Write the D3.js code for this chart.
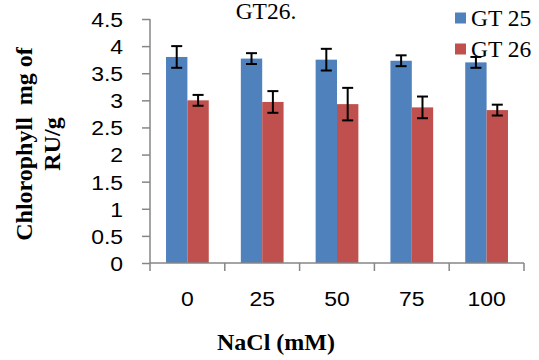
<!DOCTYPE html>
<html>
<head>
<meta charset="utf-8">
<script src="https://cdn.jsdelivr.net/npm/d3@7/dist/d3.min.js"></script>
<style>
  body { margin: 0; background: #fff; }
  svg text { fill: #000; }
</style>
</head>
<body>
<div id="chart"></div>
<script>
// data
var categories = ["0", "25", "50", "75", "100"];
var seriesNames = ["GT 25", "GT 26"];
var gt25 = [3.80, 3.77, 3.75, 3.73, 3.70];
var gt25Err = [0.20, 0.10, 0.20, 0.10, 0.10];
var gt26 = [3.00, 2.97, 2.93, 2.87, 2.82];
var gt26Err = [0.10, 0.20, 0.30, 0.20, 0.10];
var yTicks = [0, 0.5, 1, 1.5, 2, 2.5, 3, 3.5, 4, 4.5];

var colors = ["#4F81BD", "#C0504D"];
var width = 539, height = 360;
var margin = { top: 19, right: 15, bottom: 97, left: 150 };
var sx = 1.12; // reference text looks horizontally stretched

var svg = d3.select("#chart").append("svg")
  .attr("width", width)
  .attr("height", height);

var x0 = d3.scaleBand().domain(categories)
  .range([margin.left, width - margin.right]).padding(0);
var x1 = d3.scaleBand().domain(seriesNames)
  .range([0, x0.bandwidth()]).paddingInner(0).paddingOuter(0.75);
var y = d3.scaleLinear().domain([0, 4.5])
  .range([height - margin.bottom, margin.top]);

var rows = categories.map(function(c, i) {
  return [
    { cat: c, s: seriesNames[0], v: gt25[i], e: gt25Err[i], col: colors[0] },
    { cat: c, s: seriesNames[1], v: gt26[i], e: gt26Err[i], col: colors[1] }
  ];
});
var flat = [].concat.apply([], rows);

// bars
svg.append("g").selectAll("rect")
  .data(flat)
  .enter().append("rect")
  .attr("x", function(d) { return x0(d.cat) + x1(d.s); })
  .attr("width", x1.bandwidth())
  .attr("y", function(d) { return y(d.v); })
  .attr("height", function(d) { return y(0) - y(d.v); })
  .style("fill", function(d) { return d.col; });

// error bars
var err = svg.append("g").selectAll("g")
  .data(flat)
  .enter().append("g")
  .attr("transform", function(d) {
    return "translate(" + (x0(d.cat) + x1(d.s) + x1.bandwidth() / 2) + ",0)";
  })
  .style("stroke", "#000")
  .style("stroke-width", 2);
err.append("line")
  .attr("y1", function(d) { return y(d.v + d.e); })
  .attr("y2", function(d) { return y(d.v - d.e); });
err.append("line").attr("x1", -5.5).attr("x2", 5.5)
  .attr("y1", function(d) { return y(d.v + d.e); })
  .attr("y2", function(d) { return y(d.v + d.e); });
err.append("line").attr("x1", -5.5).attr("x2", 5.5)
  .attr("y1", function(d) { return y(d.v - d.e); })
  .attr("y2", function(d) { return y(d.v - d.e); });

// y axis
var yAxis = svg.append("g")
  .attr("transform", "translate(" + margin.left + ",0)")
  .call(d3.axisLeft(y).tickValues(yTicks).tickSize(8).tickPadding(16)
    .tickFormat(function(d) { return String(d); }));

// x axis: ticks at band edges, labels at centres
var xAxis = svg.append("g")
  .attr("transform", "translate(0," + y(0) + ")");
xAxis.append("line")
  .attr("x1", margin.left).attr("x2", width - margin.right);
xAxis.selectAll(".edge")
  .data(categories.concat(["end"]))
  .enter().append("line")
  .attr("class", "edge")
  .attr("x1", function(d, i) { return i < categories.length ? x0(d) : x0.range()[1]; })
  .attr("x2", function(d, i) { return i < categories.length ? x0(d) : x0.range()[1]; })
  .attr("y1", 0).attr("y2", 8);
xAxis.selectAll("text")
  .data(categories)
  .enter().append("text")
  .attr("transform", function(d) {
    return "translate(" + (x0(d) + x0.bandwidth() / 2) + ",43) scale(" + sx + ",1)";
  })
  .attr("text-anchor", "middle")
  .text(function(d) { return d; });

[yAxis, xAxis].forEach(function(g) {
  g.selectAll("path, line").style("stroke", "#868686").style("stroke-width", 1.5);
  g.selectAll("text")
    .style("font-family", "'Liberation Sans', Arial, sans-serif")
    .style("font-size", "20.5px");
});
yAxis.select(".domain").remove();
yAxis.append("line").attr("y1", y(4.5)).attr("y2", y(0))
  .style("stroke", "#868686").style("stroke-width", 1.5);
yAxis.selectAll(".tick text")
  .attr("transform", "scale(" + sx + ",1)")
  .attr("dy", "0.36em");

// axis titles
var serif = "'Liberation Serif', 'Times New Roman', serif";
svg.append("text")
  .attr("transform", "translate(276,350)")
  .attr("text-anchor", "middle")
  .style("font-family", serif).style("font-weight", "bold").style("font-size", "24px")
  .text("NaCl (mM)");

var yTitle = svg.append("g").attr("transform", "translate(0,144) rotate(-90)");
yTitle.append("text")
  .attr("x", 0).attr("y", 32)
  .attr("text-anchor", "middle")
  .style("white-space", "pre")
  .style("font-family", serif).style("font-weight", "bold").style("font-size", "24px")
  .text("Chlorophyll  mg of");
yTitle.append("text")
  .attr("x", 0).attr("y", 60)
  .attr("text-anchor", "middle")
  .style("font-family", serif).style("font-weight", "bold").style("font-size", "24px")
  .text("RU/g");

// title fragment at the top
svg.append("text")
  .attr("x", 266).attr("y", 19)
  .attr("text-anchor", "middle")
  .style("font-family", serif).style("font-size", "23.5px")
  .text("GT26.");

// legend
var legend = svg.append("g").selectAll("g")
  .data(seriesNames)
  .enter().append("g")
  .attr("transform", function(d, i) { return "translate(455," + (12.5 + i * 31) + ")"; });
legend.append("rect")
  .attr("width", 11).attr("height", 11)
  .style("fill", function(d, i) { return colors[i]; });
legend.append("text")
  .attr("x", 16).attr("y", 13.5)
  .style("font-family", serif).style("font-size", "23.5px")
  .text(function(d) { return d; });
</script>
</body>
</html>
